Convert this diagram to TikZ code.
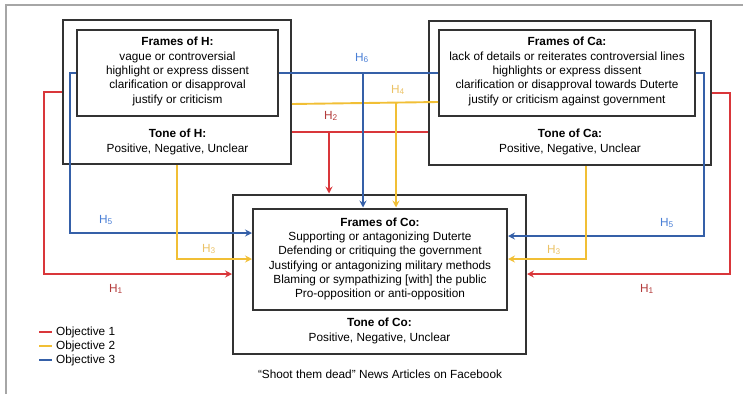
\documentclass[tikz,border=0pt]{standalone}
\usepackage{fontspec}
\setmainfont{Liberation Sans}
\usetikzlibrary{arrows.meta}

\definecolor{redline}{HTML}{D9363A}
\definecolor{redlab}{HTML}{B33A3A}
\definecolor{yelline}{HTML}{F1BF35}
\definecolor{yellab}{HTML}{EBC266}
\definecolor{blueline}{HTML}{3560A8}
\definecolor{bluelab}{HTML}{4A7FD6}
\definecolor{boxline}{HTML}{333333}

\begin{document}
\begin{tikzpicture}[x=1pt, y=-1pt,
        font=\fontsize{11.8}{14.3}\selectfont,
        box/.style={draw=boxline, line width=2pt, inner sep=0pt},
        txt/.style={align=center, inner sep=0pt},
        obj1/.style={redline, line width=1.9pt},
        obj2/.style={yelline, line width=1.9pt},
        obj3/.style={blueline, line width=1.9pt},
        arr/.style={-{Stealth[length=7pt, width=7pt, inset=2.5pt]}},
        hlab/.style={inner sep=0pt, font=\fontsize{11.8}{14}\selectfont}]
    \useasboundingbox (0,0) rectangle (743,394);
    \draw[gray!70, line width=1.6pt] (6,394) -- (6,5) -- (743,5);

    \node[box, minimum width=228pt, minimum height=144pt] (Hout) at (177,92) {};
    \node[box, minimum width=201pt, minimum height=86pt] (Hin) at (177.5,73) {};
    \node[txt] (Hframes) at (177.5,71.5) {\textbf{Frames of H:}\\ vague or controversial\\
        highlight or express dissent\\ clarification or disapproval\\ justify or criticism};
    \node[txt] (Htone) at (177.5,142) {\textbf{Tone of H:}\\ Positive, Negative, Unclear};

    \node[box, minimum width=282pt, minimum height=144pt] (Caout) at (570,93) {};
    \node[box, minimum width=256pt, minimum height=86pt] (Cain) at (567,73) {};
    \node[txt] (Caframes) at (567,71.5) {\textbf{Frames of Ca:}\\ lack of details or reiterates controversial lines\\
        highlights or express dissent\\ clarification or disapproval towards Duterte\\ justify or criticism against government};
    \node[txt] (Catone) at (570,142) {\textbf{Tone of Ca:}\\ Positive, Negative, Unclear};

    \node[box, minimum width=293pt, minimum height=159pt] (Coout) at (379.5,274) {};
    \node[box, minimum width=254pt, minimum height=101pt] (Coin) at (380,259) {};
    \node[txt] (Coframes) at (380,259) {\textbf{Frames of Co:}\\ Supporting or antagonizing Duterte\\
        Defending or critiquing the government\\ Justifying or antagonizing military methods\\
        Blaming or sympathizing [with] the public\\ Pro-opposition or anti-opposition};
    \node[txt] (Cotone) at (379.5,331) {\textbf{Tone of Co:}\\ Positive, Negative, Unclear};

    \node[txt] (caption) at (380,374) {``Shoot them dead'' News Articles on Facebook};

    \coordinate (h2) at (329,132);
    \coordinate (h4) at (396,103);
    \coordinate (h6) at (363,73);

    \draw[obj3] (Hin.east) -- (Cain.west);
    \draw[obj2] (Hout.east |- 0,104) -- (Cain.west |- 0,102);
    \draw[obj1] (Hout.east |- 0,132) -- (Caout.west |- 0,132);
    \draw[obj1, arr] (h2) -- (h2 |- Coout.north);
    \draw[obj3, arr] (h6) -- (h6 |- Coin.north);
    \draw[obj2, arr] (h4) -- (h4 |- Coin.north);

    \draw[obj1, arr] (Hout.west) -- ++(-18,0) |- (Coout.west);
    \draw[obj1, arr] (Caout.east) -- ++(18,0) |- (Coout.east);
    \draw[obj3, arr] (Hin.west) -- ++(-6,0) |- (Coin.west |- 0,233);
    \draw[obj3, arr] (Cain.east) -- ++(8,0) |- (Coin.east |- 0,236);
    \draw[obj2, arr] (Hout.south) |- (Coin.west);
    \draw[obj2, arr] ([xshift=16pt]Caout.south) |- (Coin.east);

    \node[hlab, redlab] (h1a) at (116,289) {H\textsubscript{1}};
    \node[hlab, redlab] (h1b) at (647,289) {H\textsubscript{1}};
    \node[hlab, redlab] (h2l) at (331,116) {H\textsubscript{2}};
    \node[hlab, yellab] (h3a) at (209,249) {H\textsubscript{3}};
    \node[hlab, yellab] (h3b) at (554,250) {H\textsubscript{3}};
    \node[hlab, yellab] (h4l) at (398,90) {H\textsubscript{4}};
    \node[hlab, bluelab] (h5a) at (106,220) {H\textsubscript{5}};
    \node[hlab, bluelab] (h5b) at (667,223) {H\textsubscript{5}};
    \node[hlab, bluelab] (h6l) at (362,58) {H\textsubscript{6}};

    \matrix (legend) [anchor=west, inner sep=0pt, column sep=3pt, row sep=0pt] at (38,346) {
        \draw[obj1] (0,0) -- (13,0); & \node[right, inner sep=0pt, minimum height=14pt]{Objective 1}; \\
        \draw[obj2] (0,0) -- (13,0); & \node[right, inner sep=0pt, minimum height=14pt]{Objective 2}; \\
        \draw[obj3] (0,0) -- (13,0); & \node[right, inner sep=0pt, minimum height=14pt]{Objective 3}; \\
    };
\end{tikzpicture}
\end{document}
